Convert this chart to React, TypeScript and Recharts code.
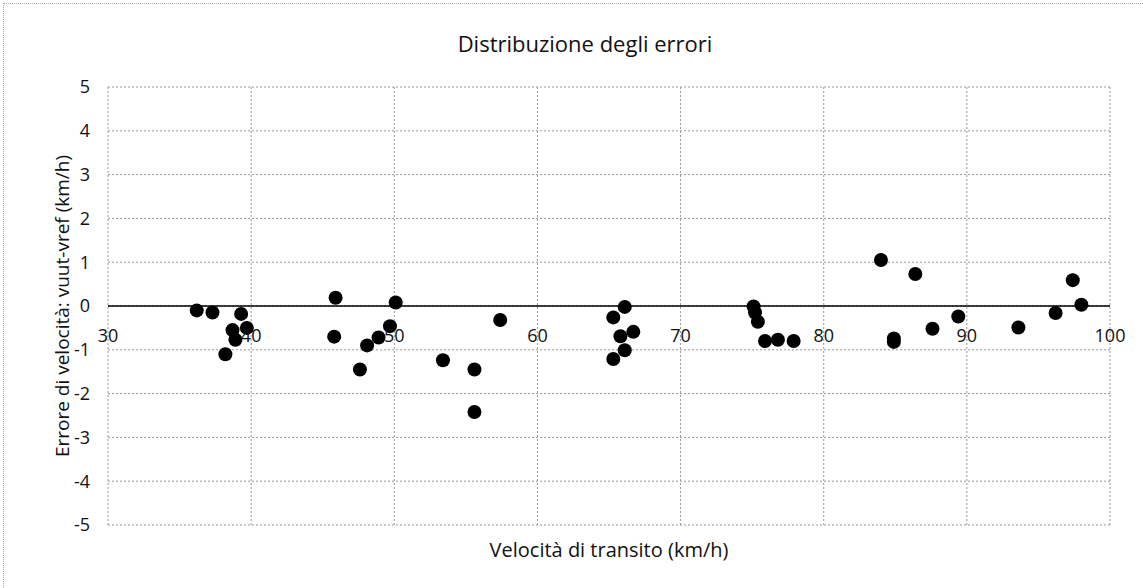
import { ScatterChart, Scatter, XAxis, YAxis, CartesianGrid, ReferenceLine } from "recharts";

// velocità di transito (km/h) e relativo errore vuut-vref (km/h)
const speeds = [
    36.2, 37.3, 39.3, 38.7, 39.7, 38.9, 38.2,
    45.9, 45.8, 50.1, 49.7, 48.9, 48.1, 47.6,
    57.4, 53.4, 55.6, 55.6,
    66.1, 65.3, 66.7, 65.8, 66.1, 65.3,
    75.1, 75.2, 75.4, 75.9, 76.8, 77.9,
    84.0, 86.4, 84.9, 84.9, 87.6, 89.4, 93.6, 96.2, 97.4, 98.0,
];
const errors = [
    -0.1, -0.15, -0.18, -0.55, -0.5, -0.77, -1.1,
    0.19, -0.7, 0.08, -0.46, -0.72, -0.9, -1.45,
    -0.32, -1.24, -1.45, -2.42,
    -0.02, -0.26, -0.59, -0.69, -1.01, -1.21,
    -0.01, -0.15, -0.36, -0.8, -0.77, -0.8,
    1.05, 0.73, -0.74, -0.82, -0.52, -0.24, -0.49, -0.16, 0.59, 0.03,
];
const xTicks = [30, 40, 50, 60, 70, 80, 90, 100];
const yTicks = [-5, -4, -3, -2, -1, 0, 1, 2, 3, 4, 5];

const points = speeds.map((v, i) => ({ v, err: errors[i] }));

const W = 1143;
const H = 588;
const TOP = 87;
const BOTTOM = 63;
const FONT = "'Open Sans', sans-serif";
const INK = "#111";
const ZERO_Y = TOP + (H - TOP - BOTTOM) / 2;

// Excel mette le etichette dell'asse orizzontale dove l'asse incrocia lo zero
const XTick = ({ x, payload }: any) => (
    <text x={x} y={ZERO_Y + 36} textAnchor="middle" fill={INK} fontSize={18} fontFamily={FONT}>
        {payload.value}
    </text>
);

const Dot = ({ cx, cy }: any) => <circle cx={cx} cy={cy} r={7} fill="#000" />;

export default function App() {
    return (
        <div style={{ position: "absolute", left: 0, top: 0, width: W, height: H, background: "#fff" }}>
            <div
                style={{
                    position: "absolute",
                    left: 3,
                    top: 3,
                    right: 0,
                    bottom: -10,
                    borderLeft: "1px dotted #aaa",
                    borderTop: "1px dotted #aaa",
                }}
            />
            <ScatterChart width={W} height={H} margin={{ top: TOP, right: 33, bottom: BOTTOM - 30, left: 48 }}>
                <text x={585} y={52} textAnchor="middle" fontSize={22} fontFamily={FONT} fill={INK}>
                    Distribuzione degli errori
                </text>
                <CartesianGrid stroke="#999" strokeDasharray="2 2" />
                <XAxis
                    type="number"
                    dataKey="v"
                    domain={[30, 100]}
                    ticks={xTicks}
                    axisLine={false}
                    tickLine={false}
                    height={30}
                    tick={<XTick />}
                    interval={0}
                    label={{ value: "Velocità di transito (km/h)", position: "insideBottom", offset: -2, fill: INK, fontSize: 20, fontFamily: FONT }}
                />
                <YAxis
                    type="number"
                    dataKey="err"
                    domain={[-5, 5]}
                    ticks={yTicks}
                    axisLine={false}
                    tickLine={false}
                    tickSize={6}
                    tickMargin={12}
                    width={60}
                    interval={0}
                    tick={{ fill: INK, fontSize: 18, fontFamily: FONT }}
                    label={{
                        value: "Errore di velocità: vuut-vref  (km/h)",
                        angle: -90,
                        position: "insideLeft",
                        offset: 14,
                        style: { textAnchor: "middle", fill: INK, fontSize: 19, fontFamily: FONT },
                    }}
                />
                <ReferenceLine y={0} stroke="#000" strokeWidth={1.5} />
                <Scatter data={points} shape={<Dot />} isAnimationActive={false} />
            </ScatterChart>
        </div>
    );
}
